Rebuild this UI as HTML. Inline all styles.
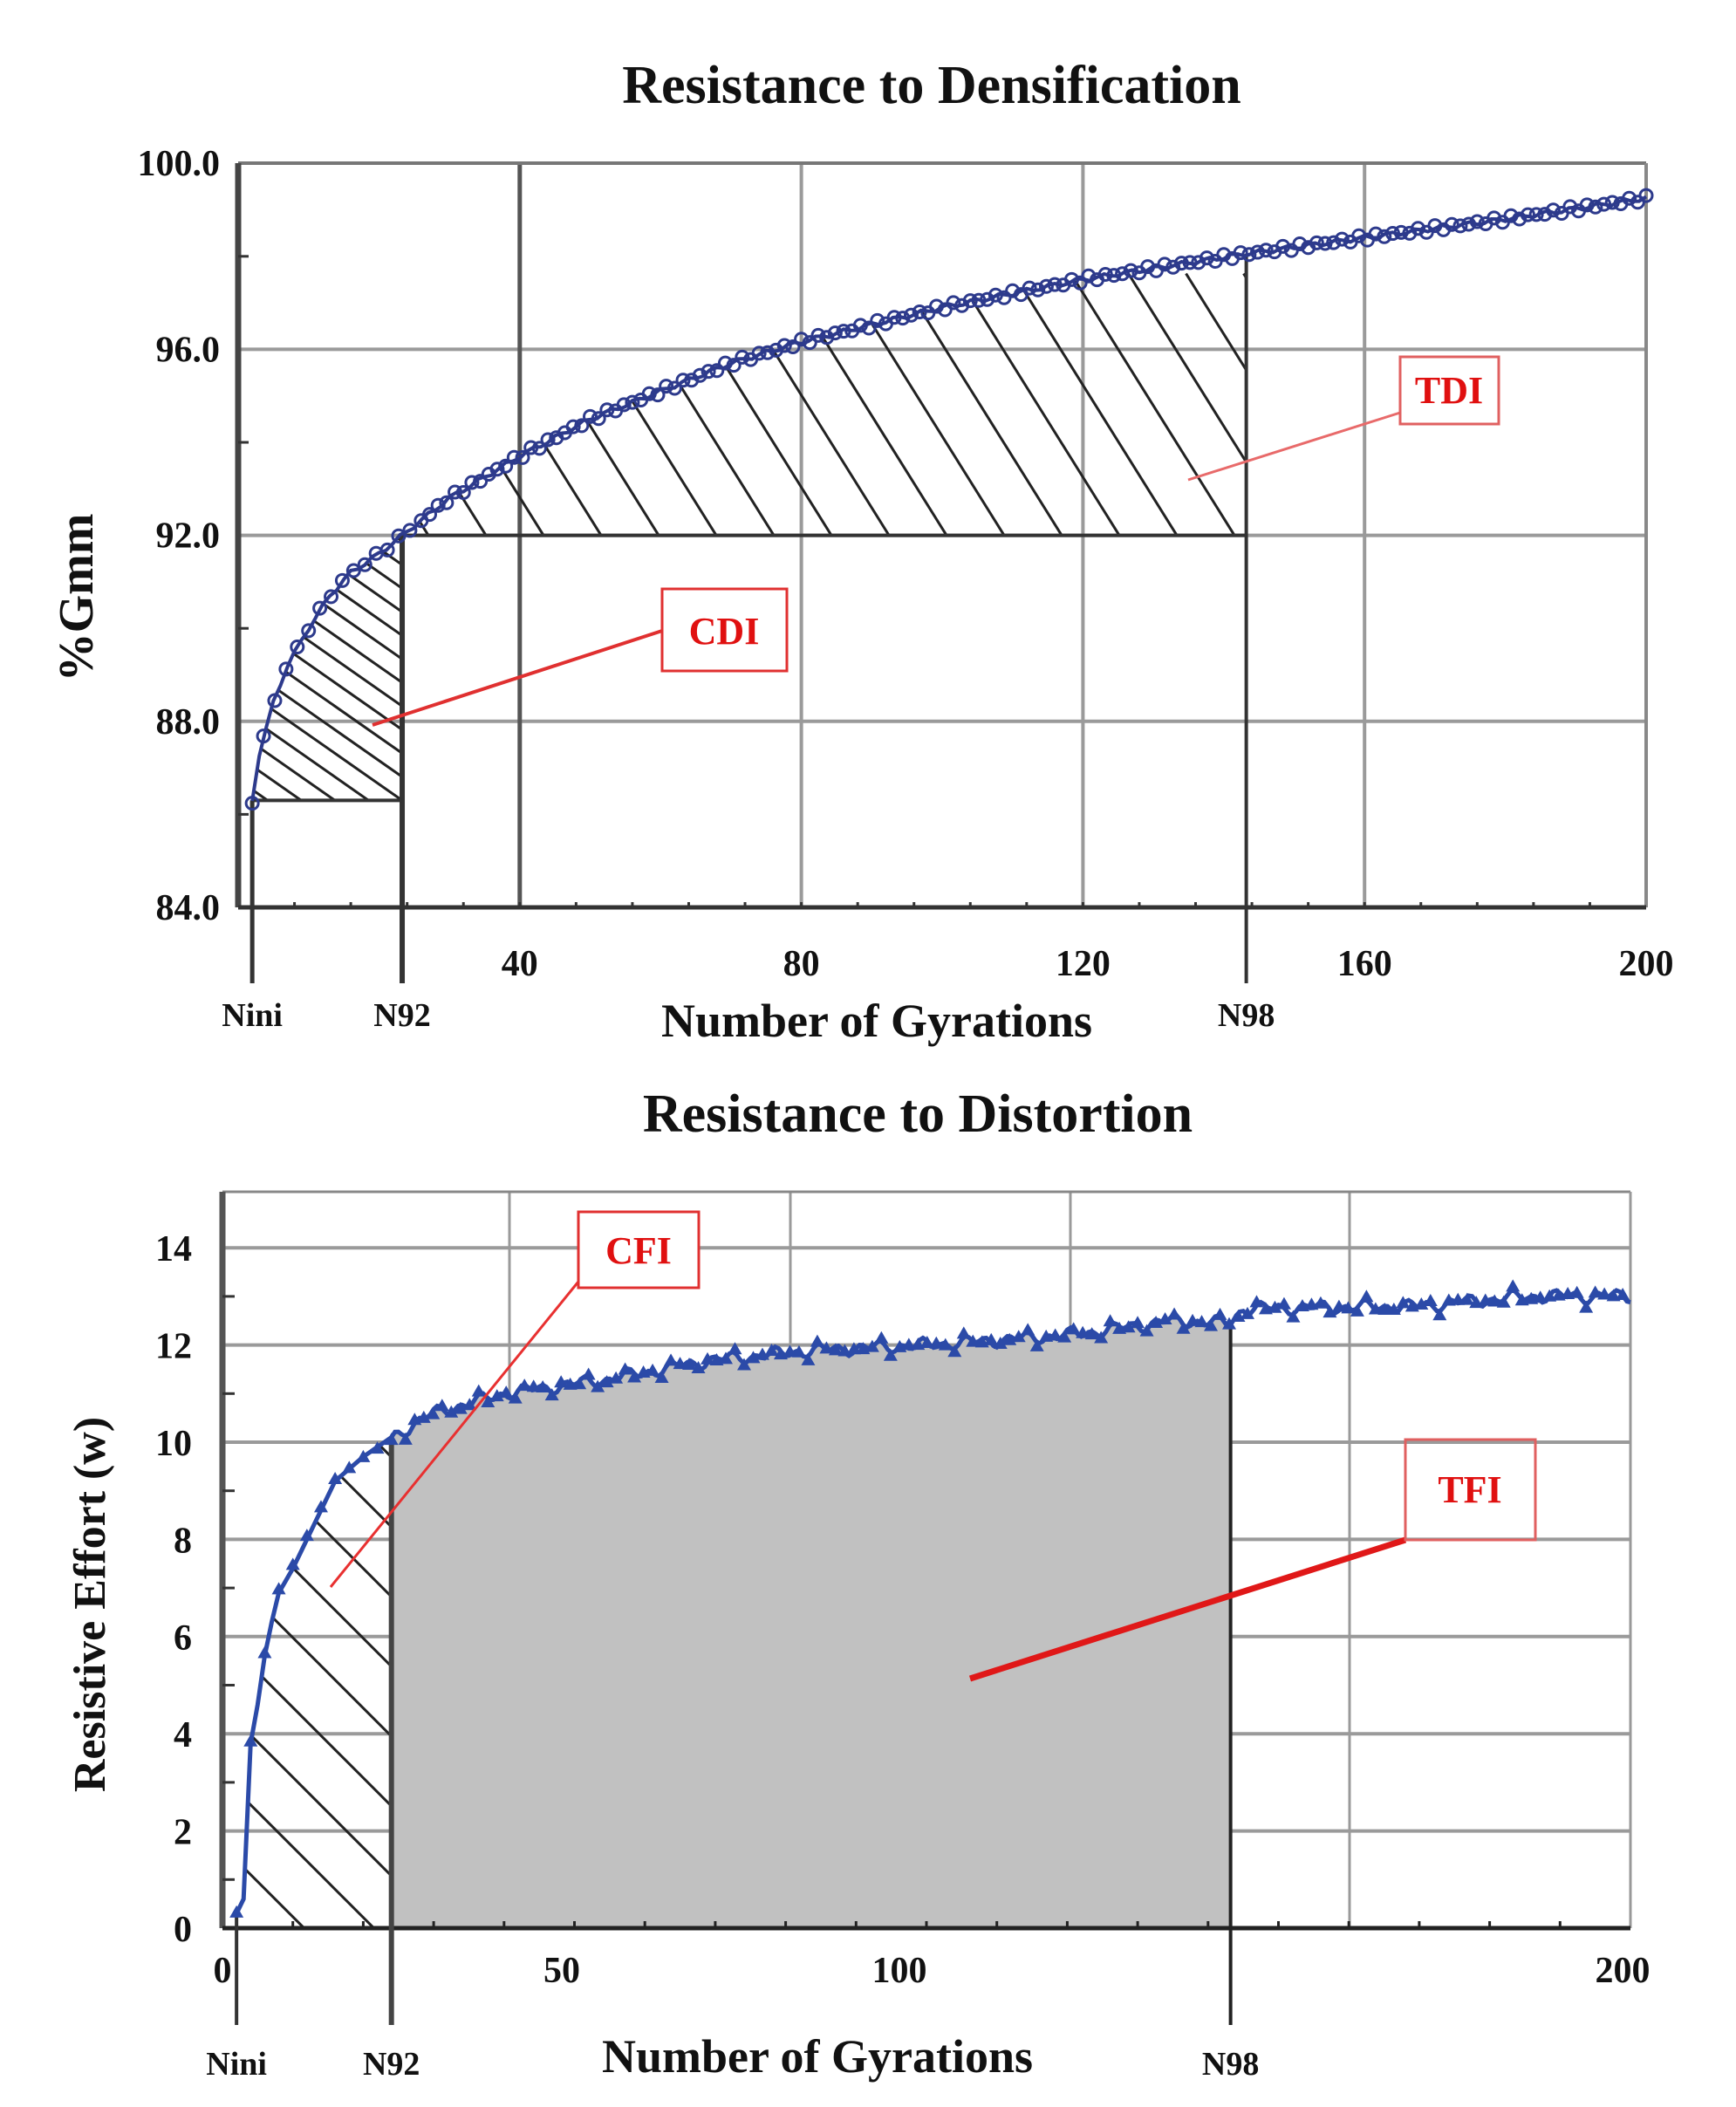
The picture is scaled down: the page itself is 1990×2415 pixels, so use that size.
<!DOCTYPE html>
<html><head><meta charset="utf-8"><style>
html,body{margin:0;padding:0;background:#fff;}
svg{display:block;}
text{font-family:"Liberation Serif",serif;font-weight:bold;}
</style></head><body>
<svg id="s" width="1990" height="2415" viewBox="0 0 1990 2415" xmlns="http://www.w3.org/2000/svg">
<rect width="1990" height="2415" fill="#fff"/>
<text x="1068" y="118" font-size="62" text-anchor="middle" fill="#111">Resistance to Densification</text>
<text x="1052" y="1297" font-size="62" text-anchor="middle" fill="#111">Resistance to Distortion</text>
<g id="top"></g><g id="bot"></g>
</svg>
<script>
const NS="http://www.w3.org/2000/svg";
function el(p,tag,a,txt){const e=document.createElementNS(NS,tag);for(const k in a)e.setAttribute(k,a[k]);if(txt!==undefined)e.textContent=txt;p.appendChild(e);return e;}
function interp(pts,n){if(n<=pts[0][0])return pts[0][1];for(let i=0;i<pts.length-1;i++){if(n>=pts[i][0]&&n<=pts[i+1][0]){const t=(n-pts[i][0])/(pts[i+1][0]-pts[i][0]);return pts[i][1]+t*(pts[i+1][1]-pts[i][1]);}}return pts[pts.length-1][1];}
const svg=document.getElementById('s');
const defs=el(svg,'defs',{});
// ---------- TOP ----------
(function(){
const g=document.getElementById('top');
const X=n=>273+n*8.07, Y=v=>1040-(v-84)*53.3;
const L=273,R=1887,T=187,B=1040;
for(const v of [96,92,88]) el(g,'line',{x1:L,x2:R,y1:Y(v),y2:Y(v),stroke:'#9a9a9a','stroke-width':4});
for(const n of [80,120,160]) el(g,'line',{x1:X(n),x2:X(n),y1:T,y2:B,stroke:'#9a9a9a','stroke-width':4});
el(g,'line',{x1:X(40),x2:X(40),y1:T,y2:B,stroke:'#555','stroke-width':5});
el(g,'line',{x1:L,x2:R,y1:T,y2:T,stroke:'#777','stroke-width':4});
el(g,'line',{x1:R,x2:R,y1:T,y2:B,stroke:'#888','stroke-width':4});
el(g,'line',{x1:L,x2:L,y1:T,y2:B,stroke:'#444','stroke-width':7});
el(g,'line',{x1:L,x2:R,y1:B,y2:B,stroke:'#333','stroke-width':5});
for(let n=8;n<200;n+=8) el(g,'line',{x1:X(n),x2:X(n),y1:B-6,y2:B,stroke:'#333','stroke-width':3});
for(let v=86;v<100;v+=4) el(g,'line',{x1:L,x2:L+12,y1:Y(v),y2:Y(v),stroke:'#333','stroke-width':3});
const pts=[[2,86.3],[3,87.3],[5,88.4],[7,89.2],[10,90.0],[13,90.7],[16,91.2],[20,91.6],[23.3,92.0],[30,92.8],[40,93.7],[50,94.5],[60,95.1],[70,95.7],[80,96.16],[100,96.9],[120,97.5],[143,98.05],[160,98.4],[180,98.8],[200,99.25]];
const f=n=>interp(pts,n);
const nini=2,n92=23.3,n98=143.2;
let d1='M'+X(nini)+','+Y(86.3);for(let n=nini;n<=n92;n+=0.5)d1+=' L'+X(n)+','+Y(f(n));d1+=' L'+X(n92)+','+Y(86.3)+'Z';
let d2='M'+X(n92)+','+Y(92);for(let n=n92;n<=n98;n+=1)d2+=' L'+X(n)+','+Y(f(n));d2+=' L'+X(n98)+','+Y(f(n98))+' L'+X(n98)+','+Y(92)+'Z';
const c1=el(defs,'clipPath',{id:'c1'});el(c1,'path',{d:d1});
const c2=el(defs,'clipPath',{id:'c2'});el(c2,'path',{d:d2});
const h1=el(g,'g',{'clip-path':'url(#c1)',stroke:'#222','stroke-width':3});
for(let k=-20;k<40;k++){const y0=Y(86.3)-k*27;el(h1,'line',{x1:X(nini)-50,y1:y0-0.7*(X(n92)-X(nini)+50),x2:X(n92),y2:y0});}
const h2=el(g,'g',{'clip-path':'url(#c2)',stroke:'#222','stroke-width':3});
for(let k=-5;k<30;k++){const x0=X(n92)+30+k*66;el(h2,'line',{x1:x0-300/1.6,y1:Y(92)-300,x2:x0,y2:Y(92)});}
el(g,'line',{x1:X(nini),x2:X(nini),y1:Y(86.3),y2:1127,stroke:'#333','stroke-width':5});
el(g,'line',{x1:X(n92),x2:X(n92),y1:Y(92),y2:1127,stroke:'#333','stroke-width':6});
el(g,'line',{x1:X(n98),x2:X(n98),y1:Y(f(n98)),y2:1127,stroke:'#333','stroke-width':4});
el(g,'line',{x1:X(nini),x2:X(n92),y1:Y(86.3),y2:Y(86.3),stroke:'#333','stroke-width':4});
el(g,'line',{x1:X(n92),x2:X(n98),y1:Y(92),y2:Y(92),stroke:'#333','stroke-width':4});
let dc='';for(let n=2;n<=200;n+=1)dc+=(dc?' L':'M')+X(n)+','+Y(f(n)+(Math.sin(n*1.7)*0.05));
el(g,'path',{d:dc,fill:'none',stroke:'#2d3a8c','stroke-width':4});
for(let n=2;n<=200;n+= (n<25?1.6:1.2)) el(g,'circle',{cx:X(n),cy:Y(f(n)+Math.sin(n*2.3)*0.06),r:7,fill:'none',stroke:'#2d3a8c','stroke-width':3});
const yl=[[100,'100.0'],[96,'96.0'],[92,'92.0'],[88,'88.0'],[84,'84.0']];
for(const [v,t] of yl) el(g,'text',{x:252,y:Y(v)+14,'font-size':42,'text-anchor':'end',fill:'#111'},t);
for(const n of [40,80,120,160,200]) el(g,'text',{x:X(n),y:1118,'font-size':42,'text-anchor':'middle',fill:'#111'},String(n));
el(g,'text',{x:X(nini),y:1176,'font-size':38,'text-anchor':'middle',fill:'#111'},'Nini');
el(g,'text',{x:X(n92),y:1176,'font-size':38,'text-anchor':'middle',fill:'#111'},'N92');
el(g,'text',{x:X(n98),y:1176,'font-size':38,'text-anchor':'middle',fill:'#111'},'N98');
el(g,'text',{x:1005,y:1188,'font-size':54,'text-anchor':'middle',fill:'#111'},'Number of Gyrations');
el(g,'text',{x:0,y:0,'font-size':56,'text-anchor':'middle',fill:'#111',transform:'translate(106,685) rotate(-90)'},'%Gmm');
el(g,'line',{x1:1605,y1:473,x2:1362,y2:550,stroke:'#e86a6a','stroke-width':3});
el(g,'rect',{x:1605,y:409,width:113,height:77,fill:'#fff',stroke:'#e06060','stroke-width':3});
el(g,'text',{x:1661,y:462,'font-size':44,'text-anchor':'middle',fill:'#e01010'},'TDI');
el(g,'line',{x1:759,y1:723,x2:427,y2:831,stroke:'#e03030','stroke-width':4});
el(g,'rect',{x:759,y:675,width:143,height:94,fill:'#fff',stroke:'#e03030','stroke-width':3});
el(g,'text',{x:830,y:738,'font-size':44,'text-anchor':'middle',fill:'#e01010'},'CDI');
})();
// ---------- BOTTOM ----------
(function(){
const g=document.getElementById('bot');
const X=n=>255+n*8.07, Y=v=>2210-55.7*v;
const L=255,R=1869,T=1366,B=2210;
const pts=[[2,0.3],[3,0.6],[4,3.8],[5,4.6],[6,5.6],[7,6.3],[8,6.9],[10,7.4],[12,8.0],[14,8.6],[16,9.2],[20,9.7],[24,10.1],[30,10.6],[40,11.0],[55,11.3],[70,11.7],[85,11.9],[100,12.0],[120,12.2],[135,12.5],[143,12.45],[145,12.75],[170,12.8],[185,13.0],[200,13.0]];
const f0=n=>interp(pts,n);
const f=n=>f0(n)+(n>24?(Math.sin(n*2.1)*0.08+Math.sin(n*0.9)*0.07):0);
const nini=2,n92=24,n98=143.2;
// grid first
for(const v of [2,4,6,8,10,12,14]) el(g,'line',{x1:L,x2:R,y1:Y(v),y2:Y(v),stroke:'#9a9a9a','stroke-width':4});
for(const x of [584,906,1227,1547]) el(g,'line',{x1:x,x2:x,y1:T,y2:B,stroke:'#9a9a9a','stroke-width':3});
// gray fill over grid
let dg='M'+X(n92)+','+Y(0);for(let n=n92;n<=n98;n+=1)dg+=' L'+X(n)+','+Y(f(n));dg+=' L'+X(n98)+','+Y(0)+'Z';
el(g,'path',{d:dg,fill:'#c1c1c1'});
el(g,'line',{x1:L,x2:R,y1:T,y2:T,stroke:'#888','stroke-width':3});
el(g,'line',{x1:R,x2:R,y1:T,y2:B,stroke:'#999','stroke-width':3});
el(g,'line',{x1:L,x2:L,y1:T,y2:B,stroke:'#555','stroke-width':7});
el(g,'line',{x1:L,x2:R,y1:B,y2:B,stroke:'#222','stroke-width':5});
for(let n=10;n<200;n+=10) el(g,'line',{x1:X(n),x2:X(n),y1:B-8,y2:B,stroke:'#222','stroke-width':3});
for(let v=1;v<15;v+=2) el(g,'line',{x1:L,x2:L+14,y1:Y(v),y2:Y(v),stroke:'#333','stroke-width':3});
let dh='M'+X(nini)+','+Y(0);for(let n=nini;n<=n92;n+=0.5)dh+=' L'+X(n)+','+Y(f(n));dh+=' L'+X(n92)+','+Y(0)+'Z';
const c3=el(defs,'clipPath',{id:'c3'});el(c3,'path',{d:dh});
const h=el(g,'g',{'clip-path':'url(#c3)',stroke:'#222','stroke-width':3});
for(let k=-3;k<20;k++){const y0=Y(0)+20-k*80;el(h,'line',{x1:X(n92)-300,y1:y0-300,x2:X(n92)+10,y2:y0+10});}
el(g,'line',{x1:X(nini),x2:X(nini),y1:Y(0.3),y2:2321,stroke:'#333','stroke-width':4});
el(g,'line',{x1:X(n92),x2:X(n92),y1:Y(f(n92)),y2:2321,stroke:'#444','stroke-width':6});
el(g,'line',{x1:X(n98),x2:X(n98),y1:Y(f(n98)),y2:2321,stroke:'#222','stroke-width':4});
let dc='';for(let n=2;n<=200;n+=0.5)dc+=(dc?' L':'M')+X(n)+','+Y(f(n));
el(g,'path',{d:dc,fill:'none',stroke:'#2b4aa8','stroke-width':5});
for(let n=2;n<=200;n+=(n<25?2:1.3)){const x=X(n),y=Y(f(n)+Math.sin(n*3.3)*0.08);el(g,'path',{d:`M${x-8},${y+6} L${x+8},${y+6} L${x},${y-8}Z`,fill:'#2b4aa8'});}
for(const v of [0,2,4,6,8,10,12,14]) el(g,'text',{x:220,y:Y(v)+15,'font-size':42,'text-anchor':'end',fill:'#111'},String(v));
el(g,'text',{x:255,y:2272,'font-size':42,'text-anchor':'middle',fill:'#111'},'0');
el(g,'text',{x:644,y:2272,'font-size':42,'text-anchor':'middle',fill:'#111'},'50');
el(g,'text',{x:1031,y:2272,'font-size':42,'text-anchor':'middle',fill:'#111'},'100');
el(g,'text',{x:1860,y:2272,'font-size':42,'text-anchor':'middle',fill:'#111'},'200');
el(g,'text',{x:X(nini),y:2378,'font-size':38,'text-anchor':'middle',fill:'#111'},'Nini');
el(g,'text',{x:X(n92),y:2378,'font-size':38,'text-anchor':'middle',fill:'#111'},'N92');
el(g,'text',{x:X(n98),y:2378,'font-size':38,'text-anchor':'middle',fill:'#111'},'N98');
el(g,'text',{x:937,y:2375,'font-size':54,'text-anchor':'middle',fill:'#111'},'Number of Gyrations');
el(g,'text',{x:0,y:0,'font-size':52,'text-anchor':'middle',fill:'#111',transform:'translate(120,1839) rotate(-90)'},'Resistive Effort (w)');
el(g,'line',{x1:663,y1:1469,x2:379,y2:1819,stroke:'#e83030','stroke-width':3});
el(g,'rect',{x:663,y:1389,width:138,height:87,fill:'#fff',stroke:'#e03030','stroke-width':3});
el(g,'text',{x:732,y:1448,'font-size':44,'text-anchor':'middle',fill:'#e01010'},'CFI');
el(g,'line',{x1:1611,y1:1765,x2:1112,y2:1924,stroke:'#e01818','stroke-width':7});
el(g,'rect',{x:1611,y:1650,width:149,height:115,fill:'none',stroke:'#e06060','stroke-width':3});
el(g,'text',{x:1685,y:1722,'font-size':44,'text-anchor':'middle',fill:'#e01010'},'TFI');
})();
</script>
</body></html>
